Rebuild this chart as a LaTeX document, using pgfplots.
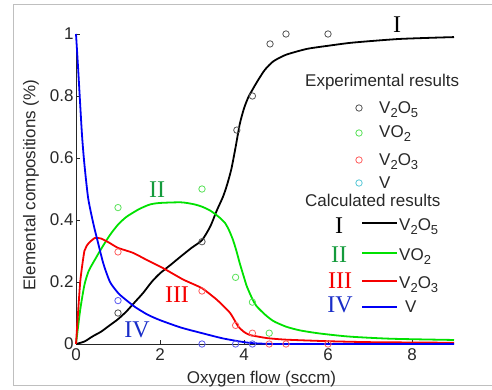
\documentclass[border=0pt]{standalone}
\usepackage{pgfplots}
\pgfplotsset{compat=1.18}
\usepackage{fontspec}
\setmainfont{Liberation Sans}
\newfontfamily\romfont{Liberation Serif}
\definecolor{expgray}{RGB}{85,85,85}
\definecolor{expgreen}{RGB}{90,225,90}
\definecolor{expred}{RGB}{255,95,95}
\definecolor{expblue}{RGB}{90,90,240}
\definecolor{expcyan}{RGB}{90,200,215}
\definecolor{cgreen}{RGB}{0,225,0}
\definecolor{cred}{RGB}{245,0,0}
\definecolor{cblue}{RGB}{0,0,245}
\definecolor{numgreen}{RGB}{20,155,60}
\definecolor{numblue}{RGB}{25,45,200}
\definecolor{txt}{RGB}{40,40,40}
\newcommand{\fs}{\fontsize{17}{20}\selectfont}
\newcommand{\fr}{\romfont\fontsize{24}{26}\selectfont}
\newcommand{\sub}[1]{\raisebox{-4.5pt}{\fontsize{13}{13}\selectfont #1}}
\begin{document}
\begin{tikzpicture}[x=1pt,y=1pt]
\useasboundingbox (0,0) rectangle (492,389);
\draw[black!25, line width=1pt] (492,384) -- (13,384) -- (13,4) -- (492,4);
\begin{axis}[
  at={(76pt,45pt)}, anchor=south west,
  scale only axis, width=378pt, height=310pt,
  xmin=0, xmax=9, ymin=0, ymax=1,
  axis x line*=bottom, axis y line*=left,
  axis line style={line width=0.8pt, black!85},
  tick style={line width=0.8pt, black!85},
  tick align=inside, major tick length=4pt,
  xtick={0,2,4,6,8}, ytick={0,0.2,0.4,0.6,0.8,1},
  /pgf/number format/assume math mode=true,
  ticklabel style={font=\fs, text=txt},
  xticklabel style={yshift=-1pt},
  yticklabel style={xshift=1pt},
  clip=false,
]
% calculated curves
\addplot[black, line width=1.8pt, smooth, tension=0.4] coordinates {
(0,0) (0.2,0.008) (0.4,0.025) (0.6,0.04) (0.8,0.06) (1.0,0.08) (1.2,0.105) (1.4,0.135) (1.6,0.165) (1.8,0.2) (2.0,0.228) (2.25,0.255) (2.5,0.283) (2.75,0.31) (3.0,0.335) (3.2,0.38) (3.35,0.43) (3.5,0.475) (3.6,0.515) (3.7,0.565) (3.8,0.635) (3.9,0.71) (4.0,0.76) (4.1,0.795) (4.2,0.82) (4.33,0.85) (4.5,0.885) (4.7,0.912) (5.0,0.933) (5.5,0.952) (6.0,0.962) (6.5,0.971) (7.0,0.977) (7.7,0.984) (8.5,0.988) (9,0.99)};
\addplot[cgreen, line width=1.8pt, smooth, tension=0.4] coordinates {
(0,0) (0.1,0.11) (0.2,0.19) (0.3,0.235) (0.45,0.272) (0.6,0.307) (0.8,0.35) (1.0,0.385) (1.2,0.41) (1.5,0.435) (1.76,0.45) (2.0,0.455) (2.5,0.457) (2.8,0.451) (3.0,0.443) (3.2,0.43) (3.4,0.41) (3.55,0.39) (3.65,0.365) (3.74,0.335) (3.82,0.3) (3.9,0.26) (4.0,0.215) (4.07,0.185) (4.2,0.145) (4.3,0.122) (4.5,0.095) (4.7,0.074) (5.0,0.056) (5.33,0.044) (5.8,0.034) (6.5,0.024) (7.5,0.017) (9,0.013)};
\addplot[cred, line width=1.8pt, smooth, tension=0.3] coordinates {
(0,0) (0.1,0.2) (0.2,0.3) (0.3,0.325) (0.45,0.342) (0.6,0.34) (0.8,0.326) (1.0,0.31) (1.36,0.294) (1.7,0.27) (2.07,0.245) (2.55,0.208) (3.0,0.18) (3.36,0.142) (3.67,0.1) (3.86,0.057) (4.0,0.039) (4.14,0.029) (4.55,0.019) (5,0.014) (6,0.009) (7,0.006) (9,0.004)};
\addplot[cblue, line width=1.8pt, smooth, tension=0.4] coordinates {
(0,1.0) (0.05,0.89) (0.14,0.68) (0.2,0.58) (0.29,0.47) (0.41,0.39) (0.5,0.34) (0.65,0.26) (0.81,0.2) (1.0,0.165) (1.12,0.15) (1.4,0.12) (1.7,0.095) (2.0,0.077) (2.5,0.053) (3.0,0.035) (3.5,0.018) (4.0,0.006) (4.3,0.002) (5,0) (9,0)};
% experimental results
\addplot[only marks, mark=o, mark size=3.2pt, expgray, line width=0.8pt] coordinates {
(1,0.10) (3,0.33) (3.83,0.69) (4.2,0.80) (4.62,0.968) (5.0,1.0) (6.0,1.0)};
\addplot[only marks, mark=o, mark size=3.2pt, expgreen, line width=0.8pt] coordinates {
(1,0.44) (3,0.50) (3.8,0.215) (4.2,0.135) (4.6,0.035)};
\addplot[only marks, mark=o, mark size=3.2pt, expred, line width=0.8pt] coordinates {
(1,0.297) (3,0.171) (3.8,0.06) (4.2,0.035) (4.6,0) (5,0) (6,0)};
\addplot[only marks, mark=o, mark size=3.2pt, expblue, line width=0.8pt] coordinates {
(1,0.14) (3,0) (3.8,0) (4.2,0)};
\end{axis}
% axis labels
\node[anchor=base, text=txt, font=\fs] at (261.5,6) {Oxygen flow (sccm)};
\node[rotate=90, text=txt, font=\fs] at (31,204) {Elemental compositions (\%)};
% numerals in plot
\node[anchor=base, font=\fr, text=black] at (397,356) {I};
\node[anchor=base, font=\fr, text=numgreen] at (157,192) {II};
\node[anchor=base, font=\fr, text=cred] at (177,87) {III};
\node[anchor=base, font=\fr, text=numblue] at (137,52) {IV};
% legend: experimental
\node[anchor=base west, text=txt, font=\fs, inner sep=0pt] at (305,302) {Experimental results};
\draw[expgray, line width=0.8pt] (359,281) circle (3.2);
\draw[expgreen, line width=0.8pt] (359,256) circle (3.2);
\draw[expred, line width=0.8pt] (359,229) circle (3.2);
\draw[expcyan, line width=0.8pt] (359,206) circle (3.2);
\node[anchor=base west, text=txt, font=\fs, inner sep=0pt] at (379,276) {V\sub{2}O\sub{5}};
\node[anchor=base west, text=txt, font=\fs, inner sep=0pt] at (379,252) {VO\sub{2}};
\node[anchor=base west, text=txt, font=\fs, inner sep=0pt] at (379,224) {V\sub{2}O\sub{3}};
\node[anchor=base west, text=txt, font=\fs, inner sep=0pt] at (379,201) {V};
% legend: calculated
\node[anchor=base west, text=txt, font=\fs, inner sep=0pt] at (305,183) {Calculated results};
\node[anchor=base, font=\fr, text=black] at (339,156) {I};
\node[anchor=base, font=\fr, text=numgreen] at (339,127) {II};
\node[anchor=base, font=\fr, text=cred] at (340,101) {III};
\node[anchor=base, font=\fr, text=numblue] at (340,77) {IV};
\draw[black, line width=1.8pt] (362,166) -- (397,166);
\draw[cgreen, line width=1.8pt] (362,136) -- (397,136);
\draw[cred, line width=1.8pt] (362,108) -- (397,108);
\draw[cblue, line width=1.8pt] (362,82) -- (397,82);
\node[anchor=base west, text=txt, font=\fs, inner sep=0pt] at (399,159) {V\sub{2}O\sub{5}};
\node[anchor=base west, text=txt, font=\fs, inner sep=0pt] at (399,129) {VO\sub{2}};
\node[anchor=base west, text=txt, font=\fs, inner sep=0pt] at (399,101) {V\sub{2}O\sub{3}};
\node[anchor=base west, text=txt, font=\fs, inner sep=0pt] at (405,77) {V};
\end{tikzpicture}
\end{document}
